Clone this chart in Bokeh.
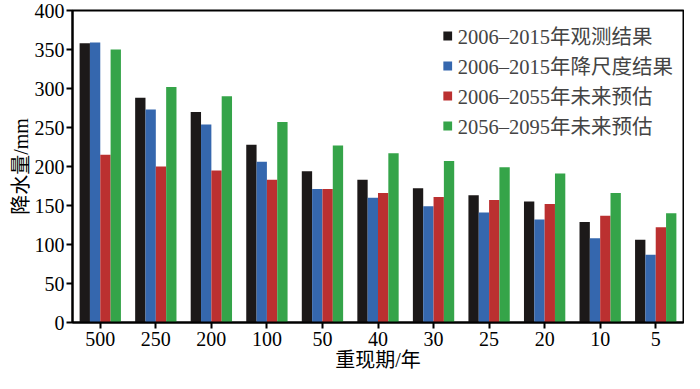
from bokeh.plotting import figure
from bokeh.models import ColumnDataSource, FactorRange, Legend, LegendItem, FixedTicker
from bokeh.transform import dodge
from bokeh.embed import file_html
from bokeh.resources import INLINE

periods = ["500", "250", "200", "100", "50", "40", "30", "25", "20", "10", "5"]
observed_2006_2015 = [358, 288, 270, 228, 194, 183, 172, 163, 155, 129, 106]
downscaled_2006_2015 = [359, 273, 254, 206, 171, 160, 149, 141, 132, 108, 87]
future_2006_2055 = [215, 200, 195, 183, 171, 166, 161, 157, 152, 137, 122]
future_2056_2095 = [350, 302, 290, 257, 227, 217, 207, 199, 191, 166, 140]
series_labels = ["2006–2015年观测结果", "2006–2015年降尺度结果",
                 "2006–2055年未来预估", "2056–2095年未来预估"]
y_ticks = [0, 50, 100, 150, 200, 250, 300, 350, 400]

FONT = "'Liberation Serif', 'Times New Roman', 'Noto Sans CJK SC', serif"
colors = ["#1c1919", "#3567ae", "#bb3030", "#35a449"]

src = ColumnDataSource(dict(
    p=periods, a=observed_2006_2015, b=downscaled_2006_2015,
    c=future_2006_2055, d=future_2056_2095))

p = figure(width=684, height=373, x_range=FactorRange(*periods, range_padding=0),
           y_range=(0, 400), output_backend="svg", toolbar_location=None,
           min_border_left=72, min_border_right=1, min_border_top=10, min_border_bottom=0)

w = 0.186
offs = [-1.5 * w, -0.5 * w, 0.5 * w, 1.5 * w]
renderers = []
for col, off, c in zip(["a", "b", "c", "d"], offs, colors):
    r = p.vbar(x=dodge("p", off, range=p.x_range), top=col, width=w, source=src,
               fill_color=c, line_color=None)
    renderers.append(r)

legend = Legend(items=[LegendItem(label=l, renderers=[r]) for l, r in zip(series_labels, renderers)],
                location="top_right", label_text_font=FONT, label_text_font_size="20.5px",
                glyph_width=11, glyph_height=11, label_standoff=5, spacing=-6,
                label_height=22, padding=4, margin=6,
                background_fill_alpha=0, border_line_alpha=0)
p.add_layout(legend)

p.xgrid.visible = False
p.ygrid.visible = False
p.outline_line_color = "black"
p.outline_line_width = 2

for ax in (p.xaxis[0], p.yaxis[0]):
    ax.axis_line_width = 2
    ax.major_tick_line_width = 2
    ax.major_tick_out = 6
    ax.major_tick_in = 0
    ax.minor_tick_line_color = None
    ax.major_label_text_font = FONT
    ax.major_label_text_font_size = "20px"
    ax.major_label_text_color = "black"
    ax.axis_label_text_font = FONT
    ax.axis_label_text_font_size = "20px"
    ax.axis_label_text_font_style = "normal"
    ax.axis_label_text_color = "black"

p.yaxis.ticker = FixedTicker(ticks=y_ticks)
p.yaxis.axis_label = "降水量/mm"
p.xaxis.axis_label = "重现期/年"
p.yaxis.major_label_standoff = 2
p.yaxis.axis_label_standoff = 0
p.xaxis.major_label_standoff = 3
p.xaxis.axis_label_standoff = 0

open("out.html", "w").write(file_html(p, INLINE))
